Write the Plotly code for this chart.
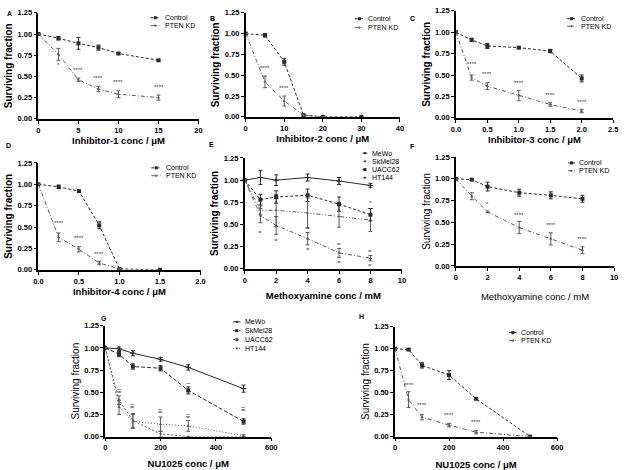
import plotly.graph_objects as go

# ---------------- DATA ----------------
# Panel A
a_x = [0, 2.5, 5, 7.5, 10, 15]
a_ctrl = [1.0, 0.95, 0.89, 0.84, 0.77, 0.69]
a_ctrl_err = [0, 0.02, 0.07, 0.03, 0.01, 0.01]
a_pten = [1.0, 0.76, 0.46, 0.35, 0.29, 0.25]
a_pten_err = [0, 0.07, 0.02, 0.03, 0.04, 0.03]
a_star_x = [2.5, 5, 7.5, 10, 15]
a_star_y = [0.63, 0.58, 0.48, 0.43, 0.37]
a_star_t = ["*", "****", "****", "****", "****"]

# Panel B
b_ctrl_x = [0, 5, 10, 15, 20, 30]
b_ctrl = [1.0, 0.98, 0.66, 0.02, 0.0, 0.0]
b_ctrl_err = [0, 0.02, 0.04, 0.01, 0, 0]
b_pten_x = [0, 5, 10, 15, 20]
b_pten = [1.0, 0.42, 0.19, 0.02, 0.0]
b_pten_err = [0, 0.07, 0.06, 0.01, 0]
b_star_x = [5, 10]
b_star_y = [0.59, 0.35]
b_star_t = ["****", "****"]

# Panel C
c_x = [0, 0.25, 0.5, 1.0, 1.5, 2.0]
c_ctrl = [1.0, 0.91, 0.84, 0.82, 0.78, 0.46]
c_ctrl_err = [0, 0.02, 0.03, 0.01, 0.02, 0.04]
c_pten = [1.0, 0.47, 0.37, 0.26, 0.155, 0.08]
c_pten_err = [0, 0.03, 0.04, 0.06, 0.02, 0.02]
c_star_x = [0.25, 0.5, 1.0, 1.5, 2.0]
c_star_y = [0.63, 0.51, 0.41, 0.27, 0.19]
c_star_t = ["****", "****", "****", "****", "****"]

# Panel D
d_ctrl_x = [0, 0.25, 0.5, 0.75, 1.0, 1.5]
d_ctrl = [1.0, 0.97, 0.92, 0.52, 0.01, 0.0]
d_ctrl_err = [0, 0.02, 0.01, 0.04, 0, 0]
d_pten_x = [0, 0.25, 0.5, 0.75, 1.0]
d_pten = [1.0, 0.38, 0.24, 0.08, 0.01]
d_pten_err = [0, 0.05, 0.03, 0.02, 0]
d_star_x = [0.25, 0.5, 0.75]
d_star_y = [0.55, 0.37, 0.19]
d_star_t = ["****", "****", "****"]

# Panel E
e_x = [0, 1, 2, 4, 6, 8]
e_mewo = [1.0, 1.03, 1.0, 1.03, 0.99, 0.94]
e_mewo_err = [0, 0.08, 0.06, 0.04, 0.04, 0.02]
e_skmel = [1.0, 0.66, 0.66, 0.63, 0.59, 0.55]
e_skmel_err = [0, 0.05, 0.18, 0.17, 0.12, 0.13]
e_uacc = [1.0, 0.78, 0.81, 0.83, 0.73, 0.61]
e_uacc_err = [0, 0.06, 0.07, 0.07, 0.08, 0.07]
e_ht = [1.0, 0.60, 0.49, 0.34, 0.18, 0.12]
e_ht_err = [0, 0.08, 0.10, 0.07, 0.05, 0.03]
e_star_x = [1, 2, 4, 4, 6, 6, 8, 8, 8]
e_star_y = [0.42, 0.33, 0.46, 0.22, 0.28, 0.08, 0.74, 0.20, 0.04]
e_star_t = ["=", "=", "=", "=", "=", "=", "*", "=", "="]

# Panel F
f_x = [0, 1, 2, 4, 6, 8]
f_ctrl = [1.0, 0.99, 0.91, 0.84, 0.81, 0.77]
f_ctrl_err = [0, 0.01, 0.05, 0.04, 0.04, 0.04]
f_pten = [1.0, 0.80, 0.62, 0.44, 0.31, 0.18]
f_pten_err = [0, 0.04, 0.01, 0.07, 0.07, 0.04]
f_star_x = [2, 4, 6, 8]
f_star_y = [0.71, 0.59, 0.47, 0.31]
f_star_t = ["*", "****", "****", "****"]

# Panel G
g_x = [0, 50, 100, 200, 300, 500]
g_mewo = [1.0, 0.99, 0.94, 0.87, 0.78, 0.54]
g_mewo_err = [0, 0.02, 0.03, 0.02, 0.03, 0.04]
g_skmel = [1.0, 0.93, 0.79, 0.77, 0.52, 0.17]
g_skmel_err = [0, 0.03, 0.03, 0.03, 0.04, 0.03]
g_uacc = [1.0, 0.41, 0.18, 0.03, 0.0, 0.0]
g_uacc_err = [0, 0.05, 0.08, 0.03, 0, 0]
g_ht = [1.0, 0.33, 0.17, 0.14, 0.12, 0.01]
g_ht_err = [0, 0.08, 0.08, 0.08, 0.06, 0.01]
g_star_x = [50, 100, 200, 300, 300, 500]
g_star_y = [0.51, 0.34, 0.28, 0.23, 0.61, 0.30]
g_star_t = ["≡", "≡", "≡", "≡", "–", "≡"]

# Panel H
h_x = [0, 50, 100, 200, 300, 500]
h_ctrl = [1.0, 0.99, 0.81, 0.70, 0.43, 0.0]
h_ctrl_err = [0, 0.01, 0.03, 0.05, 0.01, 0]
h_pten = [1.0, 0.42, 0.22, 0.13, 0.05, 0.0]
h_pten_err = [0, 0.09, 0.03, 0.02, 0.02, 0]
h_star_x = [50, 100, 200, 300]
h_star_y = [0.59, 0.36, 0.24, 0.165]
h_star_t = ["****", "****", "****", "****"]

y_ticks = [0.0, 0.25, 0.5, 0.75, 1.0, 1.25]

# ---------------- LAYOUT HELPERS ----------------
W, H = 626, 470
FONT = "Liberation Sans"

def px_x(p):
    return p / W

def px_y(p):
    return 1 - p / H

# panel: (x0px, x1px, ytop_px, ybot_px)
panels = {
    1: dict(box=(34, 197, 9, 117), xr=[0, 20], dt=5, fmt="", xt="Inhibitor-1 conc / μM", sx=3, bold=True, yb=True),
    2: dict(box=(245, 402, 9, 115), xr=[0, 40], dt=10, fmt="", xt="Inhibitor-2 conc / μM", sx=3, bold=True, yb=True),
    3: dict(box=(459, 619, 7, 116), xr=[0, 2.5], dt=0.5, fmt=".1f", xt="Inhibitor-3 conc / μM", sx=3, bold=True, yb=True),
    4: dict(box=(34, 199, 162, 271), xr=[0, 2.0], dt=0.5, fmt=".1f", xt="Inhibitor-4 conc / μM", sx=3, bold=True, yb=True),
    5: dict(box=(244, 404, 157, 270), xr=[0, 10], dt=2, fmt="", xt="Methoxyamine conc / mM", sx=9, bold=True, yb=True),
    6: dict(box=(459, 620, 156, 267), xr=[0, 10], dt=2, fmt="", xt="Methoxyamine conc / mM", sx=13, bold=False, yb=False),
    7: dict(box=(102, 271, 328, 441), xr=[0, 600], dt=200, fmt="", xt="NU1025 conc / μM", sx=9, bold=True, yb=False),
    8: dict(box=(397, 562, 329, 441), xr=[0, 600], dt=200, fmt="", xt="NU1025 conc / μM", sx=10, bold=True, yb=False),
}

fig = go.Figure()
layout = dict(
    width=W, height=H, margin=dict(l=0, r=0, t=0, b=0),
    paper_bgcolor="white", plot_bgcolor="white", showlegend=False,
    font=dict(family=FONT, color="black"),
)
annotations = []
shapes = []

for n, p in panels.items():
    x0, x1, yt, yb = p["box"]
    sfx = "" if n == 1 else str(n)
    layout["xaxis" + sfx] = dict(
        domain=[px_x(x0), px_x(x1)], range=p["xr"], dtick=p["dt"], tick0=0, tickformat=p["fmt"],
        anchor="y" + sfx, showline=True, linecolor="black", linewidth=1.5,
        ticks="outside", ticklen=3, tickwidth=1.2, tickcolor="black",
        showgrid=False, zeroline=False,
        tickfont=dict(family=FONT, size=7.5, color="black", weight="bold"),
        title=dict(text=p["xt"], standoff=p["sx"],
                   font=dict(family=FONT, size=9.5, color="black",
                             weight="bold" if p["bold"] else "normal")),
    )
    layout["yaxis" + sfx] = dict(
        domain=[px_y(yb), px_y(yt)], range=[0, 1.25], tickvals=y_ticks, tickformat=".2f",
        anchor="x" + sfx, showline=True, linecolor="black", linewidth=1.5,
        ticks="outside", ticklen=3, tickwidth=1.2, tickcolor="black",
        showgrid=False, zeroline=False,
        tickfont=dict(family=FONT, size=7.5, color="black", weight="bold"),
        title=dict(text="Surviving fraction", standoff=3,
                   font=dict(family=FONT, size=10, color="black",
                             weight="bold" if p["yb"] else "normal")),
    )


def add_series(n, x, y, err, dash, color, symbol, msize):
    sfx = "" if n == 1 else str(n)
    fig.add_trace(go.Scatter(
        x=x, y=y, mode="lines+markers", xaxis="x" + sfx, yaxis="y" + sfx,
        line=dict(color=color, width=1, dash=dash),
        marker=dict(color=color, symbol=symbol, size=msize),
        error_y=dict(type="data", array=err, visible=True, color=color, thickness=1, width=2),
        cliponaxis=False, hoverinfo="skip",
    ))


def add_stars(n, xs, ys, ts, size=6):
    sfx = "" if n == 1 else str(n)
    for x, y, t in zip(xs, ys, ts):
        annotations.append(dict(x=x, y=y, xref="x" + sfx, yref="y" + sfx, text=t,
                                showarrow=False, font=dict(family=FONT, size=size, color="#333333")))


def add_legend(n, entries, lx, ly, step, length=0.06, gap=0.015):
    sfx = "" if n == 1 else str(n)
    xr, yr = "x" + sfx + " domain", "y" + sfx + " domain"
    for i, (name, dash, color, msize) in enumerate(entries):
        yy = ly - i * step
        shapes.append(dict(type="line", xref=xr, yref=yr, x0=lx, x1=lx + length, y0=yy, y1=yy,
                           line=dict(color=color, width=1, dash=dash)))
        shapes.append(dict(type="rect", xref=xr, yref=yr, xsizemode="pixel", ysizemode="pixel",
                           xanchor=lx + length / 2, yanchor=yy, x0=-msize, x1=msize,
                           y0=-msize, y1=msize, fillcolor=color, line=dict(width=0)))
        annotations.append(dict(x=lx + length + gap, y=yy, xref=xr, yref=yr, text=name,
                                xanchor="left", yanchor="middle", showarrow=False,
                                font=dict(family=FONT, size=7, color="black")))


C1, C2 = "#2a2a2a", "#5a5a5a"
DASH_C = "3px,2px"
DASH_P = "4px,2px,1px,2px"

# A
add_series(1, a_x, a_ctrl, a_ctrl_err, DASH_C, C1, "square", 4)
add_series(1, a_x, a_pten, a_pten_err, DASH_P, C2, "triangle-up", 3)
add_stars(1, a_star_x, a_star_y, a_star_t)
add_legend(1, [("Control", DASH_C, C1, 1.5), ("PTEN KD", DASH_P, C2, 1)], 0.70, 0.954, 0.075)

# B
add_series(2, b_ctrl_x, b_ctrl, b_ctrl_err, DASH_C, C1, "square", 4)
add_series(2, b_pten_x, b_pten, b_pten_err, DASH_P, C2, "triangle-up", 3)
add_stars(2, b_star_x, b_star_y, b_star_t)
add_legend(2, [("Control", DASH_C, C1, 1.5), ("PTEN KD", DASH_P, C2, 1)], 0.707, 0.943, 0.085)

# C
add_series(3, c_x, c_ctrl, c_ctrl_err, DASH_C, C1, "square", 4)
add_series(3, c_x, c_pten, c_pten_err, DASH_P, C2, "triangle-up", 3)
add_stars(3, c_star_x, c_star_y, c_star_t)
add_legend(3, [("Control", DASH_C, C1, 1.5), ("PTEN KD", DASH_P, C2, 1)], 0.706, 0.927, 0.07)

# D
add_series(4, d_ctrl_x, d_ctrl, d_ctrl_err, DASH_C, C1, "square", 4)
add_series(4, d_pten_x, d_pten, d_pten_err, DASH_P, C2, "triangle-up", 3)
add_stars(4, d_star_x, d_star_y, d_star_t)
add_legend(4, [("Control", DASH_C, C1, 1.5), ("PTEN KD", DASH_P, C2, 1)], 0.697, 0.954, 0.074)

# E
add_series(5, e_x, e_mewo, e_mewo_err, "solid", C1, "cross-thin-open", 4)
add_series(5, e_x, e_skmel, e_skmel_err, "1px,2px,1px,2px,4px,2px", C2, "circle", 2)
add_series(5, e_x, e_uacc, e_uacc_err, DASH_C, C1, "square", 4)
add_series(5, e_x, e_ht, e_ht_err, DASH_P, C2, "triangle-up", 3)
add_stars(5, e_star_x, e_star_y, e_star_t)
add_legend(5, [("MeWo", "solid", C1, 1), ("SkMel28", "1px,2px,1px,2px,4px,2px", C2, 1),
               ("UACC62", DASH_C, C1, 1.5), ("HT144", DASH_P, C2, 1)], 0.75, 1.044, 0.074, length=0.03)

# F
add_series(6, f_x, f_ctrl, f_ctrl_err, DASH_C, C1, "square", 4)
add_series(6, f_x, f_pten, f_pten_err, DASH_P, C2, "triangle-up", 3)
add_stars(6, f_star_x, f_star_y, f_star_t)
add_legend(6, [("Control", DASH_C, C1, 1.5), ("PTEN KD", DASH_P, C2, 1)], 0.708, 0.946, 0.072, length=0.045)

# G
add_series(7, g_x, g_mewo, g_mewo_err, "solid", C1, "cross-thin-open", 4)
add_series(7, g_x, g_skmel, g_skmel_err, "4px,2px", C1, "square", 4)
add_series(7, g_x, g_uacc, g_uacc_err, "2px,2px", C2, "circle", 2)
add_series(7, g_x, g_ht, g_ht_err, "1px,2px", C2, "triangle-up", 3)
add_stars(7, g_star_x, g_star_y, g_star_t, size=8)
add_legend(7, [("MeWo", "solid", C1, 1), ("SkMel28", "4px,2px", C1, 1.5),
               ("UACC62", "2px,2px", C2, 1.5), ("HT144", "1px,2px", C2, 1)], 0.77, 1.035, 0.08, length=0.045)

# H
add_series(8, h_x, h_ctrl, h_ctrl_err, DASH_C, C1, "square", 4)
add_series(8, h_x, h_pten, h_pten_err, DASH_P, C2, "triangle-up", 3)
add_stars(8, h_star_x, h_star_y, h_star_t)
add_legend(8, [("Control", DASH_C, C1, 1.5), ("PTEN KD", DASH_P, C2, 1)], 0.703, 0.946, 0.072, length=0.048)

# panel letters
letters = [("A", 5, 10), ("B", 211, 15), ("C", 415, 15), ("D", 4, 144),
           ("E", 210, 143), ("F", 415, 145), ("G", 101, 321), ("H", 363, 319)]
for t, lx, ly in letters:
    annotations.append(dict(x=px_x(lx), y=px_y(ly), xref="paper", yref="paper", text=t,
                            showarrow=False, xanchor="center", yanchor="middle",
                            font=dict(family=FONT, size=7, color="black", weight="bold")))

layout["annotations"] = annotations
layout["shapes"] = shapes
fig.update_layout(**layout)
fig.write_html(
    "out.html",
    config={"displayModeBar": False},
    post_script="document.body.style.margin='0';document.body.style.padding='0';document.body.style.overflow='hidden';",
)
